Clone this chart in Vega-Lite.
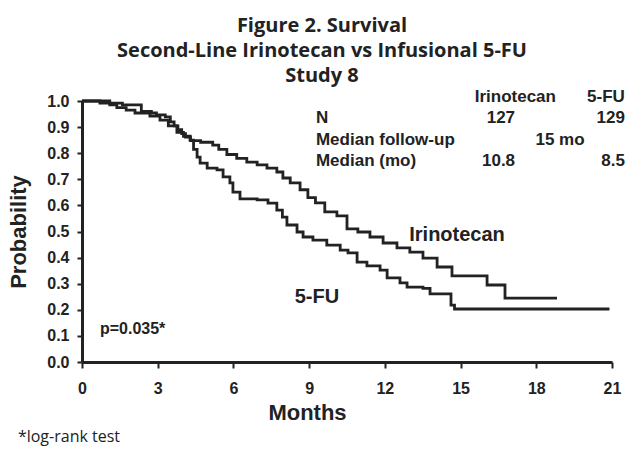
{
  "$schema": "https://vega.github.io/schema/vega-lite/v6.json",
  "width": 530,
  "height": 261,
  "autosize": {"type": "none"},
  "padding": {"left": 82, "top": 101, "right": 29, "bottom": 87},
  "background": "white",
  "title": {
    "text": ["Figure 2. Survival", "Second-Line Irinotecan vs Infusional 5-FU", "Study 8"],
    "font": "Open Sans",
    "fontSize": 20,
    "fontWeight": 700,
    "color": "#222222",
    "lineHeight": 25,
    "anchor": "middle",
    "dx": -25,
    "offset": 2
  },
  "config": {
    "view": {"stroke": null},
    "axis": {
      "grid": false,
      "domainColor": "#222222",
      "domainWidth": 3,
      "tickColor": "#222222",
      "tickWidth": 2,
      "labelFont": "Liberation Sans",
      "labelFontWeight": "bold",
      "labelColor": "#222222",
      "labelFontSize": 16,
      "labelOverlap": false,
      "labelFlush": false,
      "titleFont": "Liberation Sans",
      "titleFontWeight": "bold",
      "titleColor": "#222222",
      "titleFontSize": 22
    }
  },
  "datasets": {
    "km": [
      {"group": "Irinotecan", "month": 0, "prob": 1.0},
      {"group": "Irinotecan", "month": 1.1, "prob": 0.992},
      {"group": "Irinotecan", "month": 1.6, "prob": 0.985},
      {"group": "Irinotecan", "month": 2.35, "prob": 0.96},
      {"group": "Irinotecan", "month": 2.75, "prob": 0.954},
      {"group": "Irinotecan", "month": 2.95, "prob": 0.947},
      {"group": "Irinotecan", "month": 3.3, "prob": 0.939},
      {"group": "Irinotecan", "month": 3.5, "prob": 0.92},
      {"group": "Irinotecan", "month": 3.65, "prob": 0.905},
      {"group": "Irinotecan", "month": 3.8, "prob": 0.89},
      {"group": "Irinotecan", "month": 3.95, "prob": 0.875},
      {"group": "Irinotecan", "month": 4.1, "prob": 0.862},
      {"group": "Irinotecan", "month": 4.3, "prob": 0.848},
      {"group": "Irinotecan", "month": 4.7, "prob": 0.842},
      {"group": "Irinotecan", "month": 5.18, "prob": 0.831},
      {"group": "Irinotecan", "month": 5.42, "prob": 0.815},
      {"group": "Irinotecan", "month": 5.74, "prob": 0.795},
      {"group": "Irinotecan", "month": 6.13, "prob": 0.78},
      {"group": "Irinotecan", "month": 6.53, "prob": 0.766},
      {"group": "Irinotecan", "month": 6.94, "prob": 0.755},
      {"group": "Irinotecan", "month": 7.33, "prob": 0.743},
      {"group": "Irinotecan", "month": 7.72, "prob": 0.728},
      {"group": "Irinotecan", "month": 7.96, "prob": 0.705},
      {"group": "Irinotecan", "month": 8.25, "prob": 0.686},
      {"group": "Irinotecan", "month": 8.64, "prob": 0.66},
      {"group": "Irinotecan", "month": 8.95, "prob": 0.63},
      {"group": "Irinotecan", "month": 9.25, "prob": 0.61},
      {"group": "Irinotecan", "month": 9.62, "prob": 0.575},
      {"group": "Irinotecan", "month": 10.1, "prob": 0.56},
      {"group": "Irinotecan", "month": 10.5, "prob": 0.51},
      {"group": "Irinotecan", "month": 10.93, "prob": 0.498},
      {"group": "Irinotecan", "month": 11.41, "prob": 0.479},
      {"group": "Irinotecan", "month": 11.93, "prob": 0.456},
      {"group": "Irinotecan", "month": 12.48, "prob": 0.437},
      {"group": "Irinotecan", "month": 12.99, "prob": 0.421},
      {"group": "Irinotecan", "month": 13.51, "prob": 0.398},
      {"group": "Irinotecan", "month": 14.07, "prob": 0.364},
      {"group": "Irinotecan", "month": 14.66, "prob": 0.33},
      {"group": "Irinotecan", "month": 16.05, "prob": 0.295},
      {"group": "Irinotecan", "month": 16.76, "prob": 0.245},
      {"group": "Irinotecan", "month": 18.82, "prob": 0.245},
      {"group": "5-FU", "month": 0, "prob": 1.0},
      {"group": "5-FU", "month": 0.71, "prob": 0.992},
      {"group": "5-FU", "month": 1.1, "prob": 0.985},
      {"group": "5-FU", "month": 1.38, "prob": 0.975},
      {"group": "5-FU", "month": 1.75, "prob": 0.965},
      {"group": "5-FU", "month": 2.1, "prob": 0.954},
      {"group": "5-FU", "month": 2.69, "prob": 0.942},
      {"group": "5-FU", "month": 3.09, "prob": 0.927},
      {"group": "5-FU", "month": 3.42, "prob": 0.905},
      {"group": "5-FU", "month": 3.76, "prob": 0.88},
      {"group": "5-FU", "month": 4.02, "prob": 0.865},
      {"group": "5-FU", "month": 4.28, "prob": 0.85},
      {"group": "5-FU", "month": 4.42, "prob": 0.815},
      {"group": "5-FU", "month": 4.56, "prob": 0.785},
      {"group": "5-FU", "month": 4.68, "prob": 0.762},
      {"group": "5-FU", "month": 4.96, "prob": 0.743},
      {"group": "5-FU", "month": 5.35, "prob": 0.736},
      {"group": "5-FU", "month": 5.59, "prob": 0.709},
      {"group": "5-FU", "month": 5.86, "prob": 0.686},
      {"group": "5-FU", "month": 5.98, "prob": 0.651},
      {"group": "5-FU", "month": 6.26, "prob": 0.625},
      {"group": "5-FU", "month": 6.94, "prob": 0.621},
      {"group": "5-FU", "month": 7.37, "prob": 0.609},
      {"group": "5-FU", "month": 7.72, "prob": 0.582},
      {"group": "5-FU", "month": 7.94, "prob": 0.555},
      {"group": "5-FU", "month": 8.12, "prob": 0.525},
      {"group": "5-FU", "month": 8.52, "prob": 0.498},
      {"group": "5-FU", "month": 8.76, "prob": 0.479},
      {"group": "5-FU", "month": 9.15, "prob": 0.467},
      {"group": "5-FU", "month": 9.7, "prob": 0.448},
      {"group": "5-FU", "month": 10.23, "prob": 0.429},
      {"group": "5-FU", "month": 10.54, "prob": 0.418},
      {"group": "5-FU", "month": 10.9, "prob": 0.383},
      {"group": "5-FU", "month": 11.29, "prob": 0.368},
      {"group": "5-FU", "month": 11.81, "prob": 0.352},
      {"group": "5-FU", "month": 12.09, "prob": 0.322},
      {"group": "5-FU", "month": 12.6, "prob": 0.303},
      {"group": "5-FU", "month": 12.88, "prob": 0.287},
      {"group": "5-FU", "month": 13.51, "prob": 0.282},
      {"group": "5-FU", "month": 13.79, "prob": 0.261},
      {"group": "5-FU", "month": 14.62, "prob": 0.218},
      {"group": "5-FU", "month": 14.76, "prob": 0.203},
      {"group": "5-FU", "month": 20.9, "prob": 0.203}
    ]
  },
  "layer": [
    {
      "data": {"name": "km"},
      "mark": {"type": "line", "interpolate": "step-after", "strokeWidth": 2.8, "color": "#222222"},
      "encoding": {
        "x": {
          "field": "month", "type": "quantitative",
          "scale": {"domain": [0, 21], "nice": false, "zero": false},
          "axis": {"values": [0, 3, 6, 9, 12, 15, 18, 21], "tickSize": 6, "labelPadding": 12, "labelOverlap": false, "title": "Months", "titlePadding": 6, "titleX": 225, "titleAlign": "center"}
        },
        "y": {
          "field": "prob", "type": "quantitative",
          "scale": {"domain": [0, 1], "nice": false},
          "axis": {"tickCount": 11, "values": [0, 0.1, 0.2, 0.3, 0.4, 0.5, 0.6, 0.7, 0.8, 0.9, 1.0], "format": ".1f", "tickSize": 5, "labelPadding": 8, "labelOverlap": false, "labelSeparation": 0, "title": "Probability", "titlePadding": 16}
        },
        "detail": {"field": "group"}
      }
    },
    {
      "data": {"values": [{}]},
      "mark": {"type": "text", "font": "Liberation Sans", "fontWeight": "bold", "fontSize": 17, "color": "#222222", "align": "right", "baseline": "middle"},
      "encoding": {"x": {"datum": 18.78}, "y": {"datum": 1.015}, "text": {"value": "Irinotecan"}}
    },
    {
      "data": {"values": [{}]},
      "mark": {"type": "text", "font": "Liberation Sans", "fontWeight": "bold", "fontSize": 17, "color": "#222222", "align": "right", "baseline": "middle"},
      "encoding": {"x": {"datum": 21.51}, "y": {"datum": 1.015}, "text": {"value": "5-FU"}}
    },
    {
      "data": {"values": [{}]},
      "mark": {"type": "text", "font": "Liberation Sans", "fontWeight": "bold", "fontSize": 17, "color": "#222222", "align": "left", "baseline": "middle"},
      "encoding": {"x": {"datum": 9.27}, "y": {"datum": 0.935}, "text": {"value": "N"}}
    },
    {
      "data": {"values": [{}]},
      "mark": {"type": "text", "font": "Liberation Sans", "fontWeight": "bold", "fontSize": 17, "color": "#222222", "align": "right", "baseline": "middle"},
      "encoding": {"x": {"datum": 17.16}, "y": {"datum": 0.935}, "text": {"value": "127"}}
    },
    {
      "data": {"values": [{}]},
      "mark": {"type": "text", "font": "Liberation Sans", "fontWeight": "bold", "fontSize": 17, "color": "#222222", "align": "right", "baseline": "middle"},
      "encoding": {"x": {"datum": 21.51}, "y": {"datum": 0.935}, "text": {"value": "129"}}
    },
    {
      "data": {"values": [{}]},
      "mark": {"type": "text", "font": "Liberation Sans", "fontWeight": "bold", "fontSize": 17, "color": "#222222", "align": "left", "baseline": "middle"},
      "encoding": {"x": {"datum": 9.27}, "y": {"datum": 0.851}, "text": {"value": "Median follow-up"}}
    },
    {
      "data": {"values": [{}]},
      "mark": {"type": "text", "font": "Liberation Sans", "fontWeight": "bold", "fontSize": 17, "color": "#222222", "align": "center", "baseline": "middle"},
      "encoding": {"x": {"datum": 18.94}, "y": {"datum": 0.851}, "text": {"value": "15 mo"}}
    },
    {
      "data": {"values": [{}]},
      "mark": {"type": "text", "font": "Liberation Sans", "fontWeight": "bold", "fontSize": 17, "color": "#222222", "align": "left", "baseline": "middle"},
      "encoding": {"x": {"datum": 9.27}, "y": {"datum": 0.77}, "text": {"value": "Median (mo)"}}
    },
    {
      "data": {"values": [{}]},
      "mark": {"type": "text", "font": "Liberation Sans", "fontWeight": "bold", "fontSize": 17, "color": "#222222", "align": "right", "baseline": "middle"},
      "encoding": {"x": {"datum": 17.16}, "y": {"datum": 0.77}, "text": {"value": "10.8"}}
    },
    {
      "data": {"values": [{}]},
      "mark": {"type": "text", "font": "Liberation Sans", "fontWeight": "bold", "fontSize": 17, "color": "#222222", "align": "right", "baseline": "middle"},
      "encoding": {"x": {"datum": 21.51}, "y": {"datum": 0.77}, "text": {"value": "8.5"}}
    },
    {
      "data": {"values": [{}]},
      "mark": {"type": "text", "font": "Liberation Sans", "fontWeight": "bold", "fontSize": 20, "color": "#222222", "align": "center", "baseline": "middle"},
      "encoding": {"x": {"datum": 14.86}, "y": {"datum": 0.487}, "text": {"value": "Irinotecan"}}
    },
    {
      "data": {"values": [{}]},
      "mark": {"type": "text", "font": "Liberation Sans", "fontWeight": "bold", "fontSize": 20, "color": "#222222", "align": "center", "baseline": "middle"},
      "encoding": {"x": {"datum": 9.31}, "y": {"datum": 0.25}, "text": {"value": "5-FU"}}
    },
    {
      "data": {"values": [{}]},
      "mark": {"type": "text", "font": "Liberation Sans", "fontWeight": "bold", "fontSize": 16, "color": "#222222", "align": "left", "baseline": "middle"},
      "encoding": {"x": {"datum": 0.71}, "y": {"datum": 0.126}, "text": {"value": "p=0.035*"}}
    },
    {
      "data": {"values": [{}]},
      "mark": {"type": "text", "font": "Open Sans", "fontSize": 16, "color": "#222222", "align": "left", "baseline": "middle"},
      "encoding": {"x": {"datum": -2.54}, "y": {"datum": -0.287}, "text": {"value": "*log-rank test"}}
    }
  ]
}
